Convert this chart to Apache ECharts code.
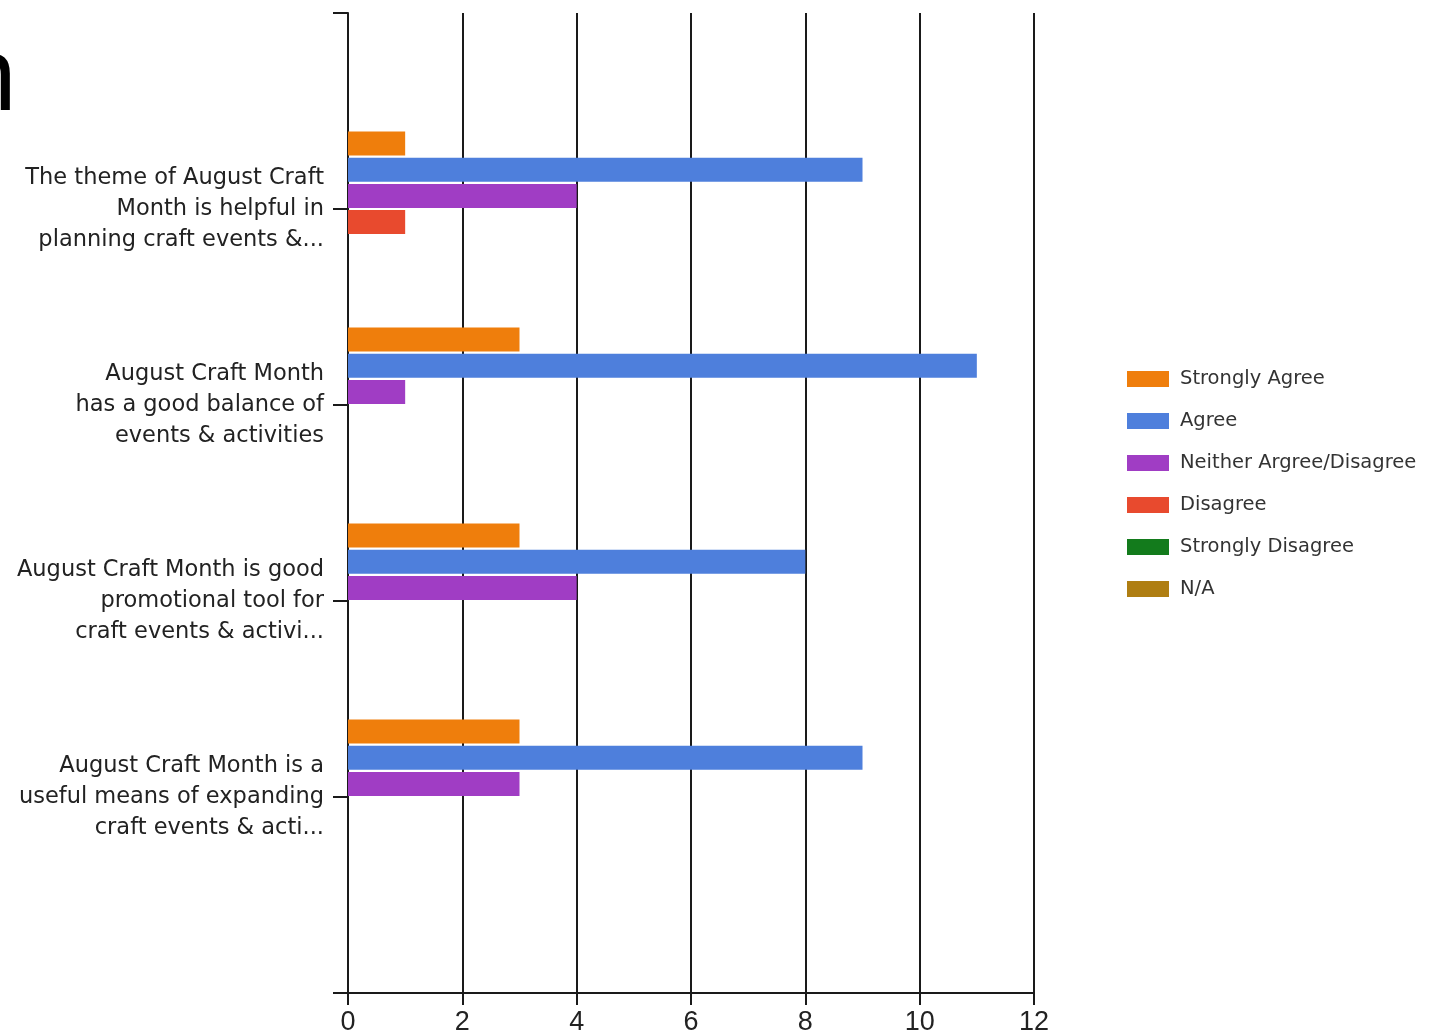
<!DOCTYPE html>
<html>
<head>
<meta charset="utf-8">
<script src="https://cdn.jsdelivr.net/npm/echarts@6/dist/echarts.min.js"></script>
<style>
html,body{margin:0;padding:0;background:#fff;}
#chart{width:1438px;height:1032px;}
</style>
</head>
<body>
<div id="chart"></div>
<script>
var categories = [
  'The theme of August Craft\nMonth is helpful in\nplanning craft events &...',
  'August Craft Month\nhas a good balance of\nevents & activities',
  'August Craft Month is good\npromotional tool for\ncraft events & activi...',
  'August Craft Month is a\nuseful means of expanding\ncraft events & acti...'
];
var seriesNames = ['Strongly Agree', 'Agree', 'Neither Argree/Disagree', 'Disagree', 'Strongly Disagree', 'N/A'];
var stronglyAgree = [1, 3, 3, 3];
var agree = [9, 11, 8, 9];
var neither = [4, 1, 4, 3];
var disagree = [1, 0, 0, 0];
var stronglyDisagree = [0, 0, 0, 0];
var na = [0, 0, 0, 0];
var xTicks = [0, 2, 4, 6, 8, 10, 12];

var colors = ['#EF7E0C', '#4E7FDC', '#A03DC4', '#E84A2E', '#137B1C', '#AF7E12'];
var allValues = [stronglyAgree, agree, neither, disagree, stronglyDisagree, na];

// padded category axis: empty slot at each end so categories sit at 1..4 of 0..5
var yData = [''].concat(categories).concat(['']);

var series = seriesNames.map(function (name, i) {
  return {
    name: name,
    type: 'bar',
    barWidth: 24,
    barGap: '9%',
    itemStyle: { color: colors[i] },
    data: ['-'].concat(allValues[i]).concat(['-'])
  };
});

var labelFont = "'DejaVu Sans', 'Liberation Sans', sans-serif";

var chart = echarts.init(document.getElementById('chart'));
chart.setOption({
  animation: false,
  backgroundColor: '#ffffff',
  grid: { left: 348, right: 404, top: 13, bottom: 39, containLabel: false, outerBoundsMode: 'none' },
  graphic: [{
    type: 'text',
    x: -46,
    y: 80,
    style: { text: 'n', fontSize: 104, fontFamily: "'Noto Sans', 'Open Sans', sans-serif", fill: '#000', verticalAlign: 'middle', align: 'left' }
  }],
  xAxis: {
    type: 'value',
    min: xTicks[0],
    max: xTicks[xTicks.length - 1],
    interval: 2,
    axisLine: { show: true, lineStyle: { color: '#1a1a1a', width: 2 } },
    axisTick: { show: true, length: 12, lineStyle: { color: '#1a1a1a', width: 2 } },
    axisLabel: { fontSize: 27, color: '#222', margin: 16, fontFamily: "'Liberation Sans', sans-serif" },
    splitLine: { show: true, showMinLine: true, showMaxLine: true, lineStyle: { color: '#1a1a1a', width: 2 } }
  },
  yAxis: {
    type: 'category',
    inverse: true,
    boundaryGap: false,
    data: yData,
    axisLine: { show: true, lineStyle: { color: '#1a1a1a', width: 2 } },
    axisTick: { show: true, length: 15, lineStyle: { color: '#1a1a1a', width: 2 } },
    axisLabel: { fontSize: 22.5, color: '#222', margin: 24, lineHeight: 31, padding: [4, 0, 0, 0], align: 'right', fontFamily: labelFont, interval: 0 },
    splitLine: { show: false }
  },
  legend: {
    orient: 'vertical',
    left: 1122,
    top: 364,
    icon: 'rect',
    itemWidth: 42,
    itemHeight: 16,
    itemGap: 22,
    data: seriesNames,
    textStyle: { fontSize: 19.5, color: '#333', fontFamily: labelFont, padding: [0, 0, 0, 6] }
  },
  series: series
});
</script>
</body>
</html>
